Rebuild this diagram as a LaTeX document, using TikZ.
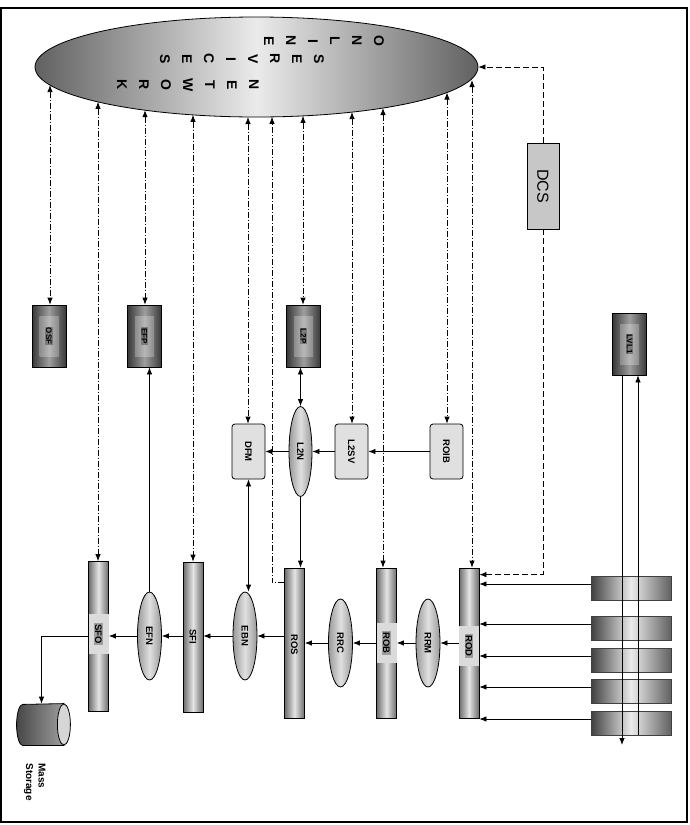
\documentclass[tikz,border=0pt]{standalone}
\usepackage{fontspec}
\setsansfont{Liberation Sans}
\usetikzlibrary{arrows.meta,shapes,positioning}

\tikzset{
  >={Latex[length=7pt,width=5.5pt]},
  ctl/.style={dash pattern=on 6pt off 2pt on 1pt off 2pt},
  dcsline/.style={dash pattern=on 6pt off 3pt},
  lbl/.style={rotate=-90, inner sep=1pt, font=\sffamily\bfseries\fontsize{9.5}{10}\selectfont},
  netbody/.style={draw, ellipse, minimum width=443, minimum height=100, left color=black!62, right color=black!62, middle color=black!8},
  nettxt/.style={rotate=-90, align=center, inner sep=0pt, font=\sffamily\bfseries\fontsize{14}{22}\selectfont},
  darkbox/.style={draw, minimum width=34, minimum height=62, left color=black!78, right color=black!78, middle color=black!38},
  darkpatch/.style={minimum width=19, minimum height=40, left color=black!45, right color=black!45, middle color=black!28},
  darklbl/.style={lbl, fill=black!52, font=\sffamily\bfseries\fontsize{8}{9}\selectfont},
  l2box/.style={draw, rounded corners=3pt, minimum width=33, minimum height=55, fill=black!12},
  bar/.style={draw, minimum width=20, minimum height=150, left color=black!58, right color=black!58, middle color=black!10},
  barpatch/.style={minimum width=20, minimum height=40, fill=black!14},
  barlbl/.style={lbl, fill=black!38},
  proc/.style={draw, ellipse, minimum width=24, minimum height=88, left color=black!40, right color=black!40, middle color=black!12},
  detbox/.style={draw=black!75, minimum width=80, minimum height=24, left color=black!75, right color=black!62, middle color=black!8},
  dcsbox/.style={draw, minimum width=32, minimum height=86, fill=black!22},
  store/.style={inner sep=0pt, minimum width=53, minimum height=41},
}

\begin{document}
\begin{tikzpicture}[x=1pt, y=-1pt, line width=0.8pt]
  \useasboundingbox (0,0) rectangle (689,825);
  \draw[line width=1.6pt] (1,8) rectangle (687,822);

  % online services network
  \node[netbody] (onl) at (256.5,67) {};
  \node[nettxt] (onl-a) at (324,41) {O\\N\\L\\I\\N\\E};
  \node[nettxt] (onl-b) at (242,59) {S\\E\\R\\V\\I\\C\\E\\S};
  \node[nettxt] (onl-c) at (188,85) {N\\E\\T\\W\\O\\R\\K};

  \node[dcsbox] (dcs) at (543,186) {};
  \node[lbl, font=\sffamily\fontsize{16}{18}\selectfont] (dcs-t) at (dcs) {DCS};

  % farms and level 1
  \node[darkbox] (osf) at (49,336) {};
  \node[darkpatch] (osf-p) at (osf) {};
  \node[darklbl] (osf-t) at (osf) {OSF};
  \node[darkbox] (efp) at (144.5,336) {};
  \node[darkpatch] (efp-p) at (efp) {};
  \node[darklbl] (efp-t) at (efp) {EFP};
  \node[darkbox] (l2p) at (303.5,336) {};
  \node[darkpatch] (l2p-p) at (l2p) {};
  \node[darklbl] (l2p-t) at (l2p) {L2P};
  \node[darkbox] (lvl1) at (629.5,344) {};
  \node[darkpatch] (lvl1-p) at (lvl1) {};
  \node[darklbl] (lvl1-t) at (lvl1) {LVL1};

  % level 2
  \node[l2box] (dfm) at (248.5,451.5) {};
  \node[lbl] (dfm-t) at (dfm) {DFM};
  \node[proc, minimum width=23, minimum height=90] (l2n) at (300.5,451.5) {};
  \node[lbl] (l2n-t) at (l2n) {L2N};
  \node[l2box] (l2sv) at (351.5,451.5) {};
  \node[lbl] (l2sv-t) at (l2sv) {L2SV};
  \node[l2box] (roib) at (446.5,451.5) {};
  \node[lbl] (roib-t) at (roib) {ROIB};

  % readout and event building
  \node[bar] (rod) at (469,643) {};
  \node[barpatch] (rod-p) at (469,646) {};
  \node[barlbl] (rod-t) at (rod-p) {ROD};
  \node[proc] (rrm) at (428,643) {};
  \node[lbl] (rrm-t) at (rrm) {RRM};
  \node[bar] (rob) at (386.5,643) {};
  \node[barpatch] (rob-p) at (386.5,643) {};
  \node[barlbl] (rob-t) at (rob-p) {ROB};
  \node[proc] (rrc) at (340.5,643) {};
  \node[lbl] (rrc-t) at (rrc) {RRC};
  \node[bar] (ros) at (294.5,643) {};
  \node[lbl] (ros-t) at (294.5,645) {ROS};
  \node[proc] (ebn) at (245,636) {};
  \node[lbl] (ebn-t) at (ebn) {EBN};
  \node[bar] (sfi) at (193,637) {};
  \node[lbl] (sfi-t) at (sfi) {SFI};
  \node[proc] (efn) at (149.5,636) {};
  \node[lbl] (efn-t) at (efn) {EFN};
  \node[bar] (sfo) at (98.5,636.5) {};
  \node[barpatch] (sfo-p) at (98.5,634) {};
  \node[barlbl] (sfo-t) at (sfo-p) {SFO};

  % detector
  \node[detbox] (det1) at (631,588) {};
  \node[detbox] (det2) at (631,628) {};
  \node[detbox] (det3) at (631,660) {};
  \node[detbox] (det4) at (631,691) {};
  \node[detbox] (det5) at (631,723) {};

  % mass storage
  \node[store] (mass) at (43.5,724.5) {};
  \draw[left color=black!72, right color=black!38] ([xshift=6pt]mass.south west)
    arc[start angle=90, end angle=270, x radius=6, y radius=20.5]
    -- ([xshift=-6.5pt]mass.north east) -- ([xshift=-6.5pt]mass.south east) -- cycle;
  \draw[fill=black!16] ([xshift=-6.5pt]mass.east) ellipse [x radius=6.5, y radius=20.5];
  \node[lbl, align=left, anchor=north west, inner sep=0pt, font=\sffamily\bfseries\fontsize{10}{12.5}\selectfont] (mass-t) at (46,763) {Mass\\Storage};

  % points on the network border
  \coordinate (o-osf) at (50,85.1);
  \coordinate (o-sfo) at (98,101.9);
  \coordinate (o-efp) at (145,110.2);
  \coordinate (o-sfi) at (193,114.9);
  \coordinate (o-dfm) at (248,117);
  \coordinate (o-ros) at (272,116.9);
  \coordinate (o-l2p) at (303,115.9);
  \coordinate (o-l2sv) at (352,112.1);
  \coordinate (o-rob) at (383,108);
  \coordinate (o-roib) at (447,92.5);
  \coordinate (o-rod) at (472,80);

  \draw[ctl,<->] (o-osf) -- (o-osf |- osf.north);
  \draw[ctl,<->] (o-sfo) -- (o-sfo |- sfo.north);
  \draw[ctl,<->] (o-efp) -- (o-efp |- efp.north);
  \draw[ctl,<->] (o-sfi) -- (o-sfi |- sfi.north);
  \draw[ctl,<->] (o-dfm) -- (o-dfm |- dfm.north);
  \draw[ctl,->] ([yshift=-15pt]ros.north west) -| (o-ros);
  \draw[ctl,<->] (o-l2p) -- (o-l2p |- l2p.north);
  \draw[ctl,<->] (o-l2sv) -- (o-l2sv |- l2sv.north);
  \draw[ctl,<->] (o-rob) -- (o-rob |- rob.north);
  \draw[ctl,<->] (o-roib) -- (o-roib |- roib.north);
  \draw[ctl,<->] (o-rod) -- (o-rod |- rod.north);

  \draw[dcsline,->] (dcs.north) |- (onl.east);
  \draw[dcsline,->] (dcs.south) |- ([yshift=-7pt]rod.north east);

  % data flow
  \draw[->] (roib) -- (l2sv);
  \draw[->] (l2sv) -- (l2n);
  \draw[->] (l2n) -- (dfm);
  \draw[<->] (l2n.north) -- (l2n.north |- l2p.south);
  \draw[->] (l2n.south) -- (l2n.south |- ros.north);
  \draw[<->] (dfm.south) -- (dfm.south |- ebn.north);
  \draw[->] (efn.north) -- (efn.north |- efp.south);

  \draw[->] (rod) -- (rrm);
  \draw[->] (rrm) -- (rob);
  \draw[->] (rob) -- (rrc);
  \draw[->] (rrc) -- (ros);
  \draw[->] (ros.west |- ebn) -- (ebn);
  \draw[->] (ebn) -- (ebn -| sfi.east);
  \draw[->] (sfi.west |- efn) -- (efn);
  \draw[->] (efn) -- (efn -| sfo.east);
  \draw[->] (sfo.west) -| ([xshift=-2pt]mass.north);

  \begin{scope}[transform canvas={yshift=4pt}]
    \draw[->] (det1.west) -- (det1.west -| rod.east);
    \draw[->] (det2.west) -- (det2.west -| rod.east);
    \draw[->] (det3.west) -- (det3.west -| rod.east);
    \draw[->] (det4.west) -- (det4.west -| rod.east);
    \draw[->] (det5.west) -- (det5.west -| rod.east);
  \end{scope}

  \coordinate (l1-dn) at (622,745);
  \coordinate (l1-up) at (638,735);
  \draw[->] (l1-dn |- lvl1.south) -- (l1-dn);
  \draw[->] (l1-up) -- (l1-up |- lvl1.south);
\end{tikzpicture}
\end{document}
